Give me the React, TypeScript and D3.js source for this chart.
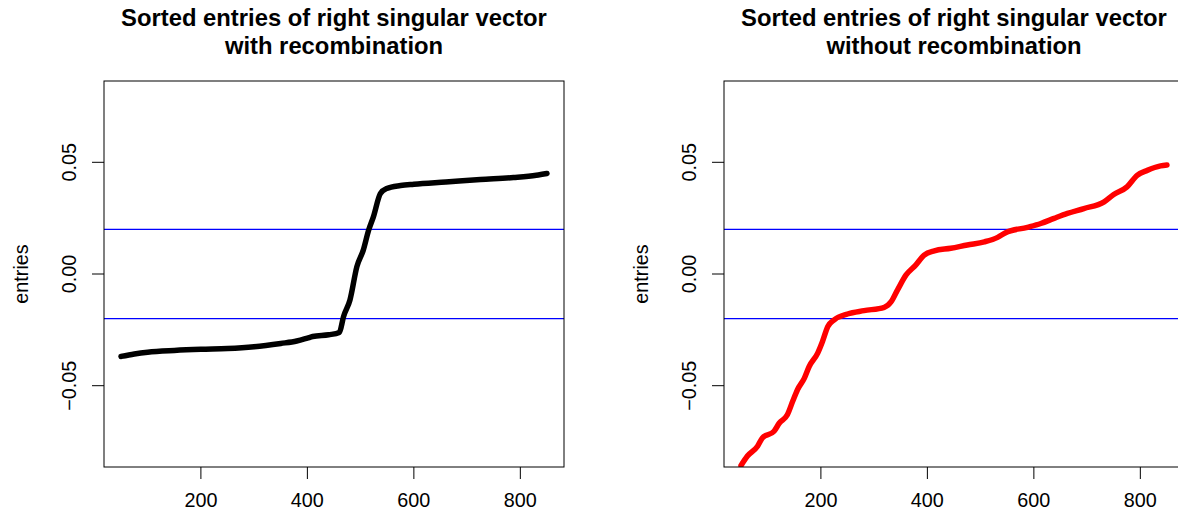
import React, { useEffect, useRef } from "react";
import * as d3 from "d3";

// index positions and sorted entries
const withX = [50, 75, 100, 150, 200, 250, 300, 350, 380, 400, 410, 440, 460, 468, 480, 493, 505, 515, 524, 537, 549, 575, 600, 660, 725, 787, 830, 850];
const withY = [-0.0369, -0.0358, -0.035, -0.0342, -0.0337, -0.0334, -0.0326, -0.0311, -0.03, -0.0287, -0.028, -0.0272, -0.0262, -0.019, -0.0116, 0.0033, 0.0107, 0.0196, 0.0256, 0.036, 0.0383, 0.0396, 0.0402, 0.0412, 0.0423, 0.0432, 0.0442, 0.045];

const withoutX = [50, 62, 81, 90, 112, 122, 137, 147, 156, 169, 178, 194, 203, 213, 225, 250, 281, 319, 332, 344, 360, 378, 394, 413, 444, 475, 507, 532, 547, 588, 613, 638, 663, 694, 732, 750, 775, 794, 813, 838, 850];
const withoutY = [-0.0857, -0.0815, -0.0771, -0.0734, -0.0704, -0.0667, -0.063, -0.057, -0.0518, -0.0466, -0.0414, -0.0354, -0.0302, -0.0235, -0.0205, -0.0179, -0.0164, -0.0149, -0.0124, -0.0071, -0.0004, 0.004, 0.0085, 0.0104, 0.0115, 0.013, 0.0144, 0.0164, 0.0185, 0.0209, 0.0226, 0.0249, 0.0271, 0.0293, 0.0323, 0.0356, 0.039, 0.0442, 0.0464, 0.0484, 0.0488];

const xTicks = [200, 400, 600, 800];
const yTicks = [-0.05, 0, 0.05];
const yTickLabels = ["\u22120.05", "0.00", "0.05"];
const cutoffs = [-0.02, 0.02];

const panels = [
  { title: ["Sorted entries of right singular vector", "with recombination"], xs: withX, ys: withY, color: "#000000", left: 104 },
  { title: ["Sorted entries of right singular vector", "without recombination"], xs: withoutX, ys: withoutY, color: "#ff0000", left: 724 },
];

const W = 1178;
const H = 516;
const FONT = "'Liberation Sans', Arial, Helvetica, sans-serif";

const App = () => {
  const svgRef = useRef<SVGSVGElement>(null);

  useEffect(() => {
    const svg = d3.select(svgRef.current);
    svg.selectAll("*").remove();

    const top = 81;
    const bottom = 467;
    const plotW = 460;

    panels.forEach((p, i) => {
      const x = d3.scaleLinear().domain([18, 882]).range([p.left, p.left + plotW]);
      const y = d3.scaleLinear().domain([-0.0864, 0.0864]).range([bottom, top]);
      const g = svg.append("g");
      const cx = p.left + plotW / 2;

      // title, two lines
      g.selectAll("text.title")
        .data(p.title)
        .join("text")
        .attr("class", "title")
        .attr("x", cx)
        .attr("y", (d, k) => 26 + k * 28)
        .attr("text-anchor", "middle")
        .attr("font-family", FONT)
        .attr("font-weight", "bold")
        .attr("font-size", "23.8px")
        .text(d => d);

      const clipId = `clip${i}`;
      svg.append("clipPath").attr("id", clipId)
        .append("rect")
        .attr("x", p.left).attr("y", top)
        .attr("width", plotW).attr("height", bottom - top);

      // reference lines at +-0.02
      g.append("g").attr("clip-path", `url(#${clipId})`)
        .selectAll("line")
        .data(cutoffs)
        .join("line")
        .attr("x1", p.left).attr("x2", p.left + plotW)
        .attr("y1", d => y(d)).attr("y2", d => y(d))
        .attr("stroke", "#0000ff")
        .attr("stroke-width", 1.2);

      // sorted entries, drawn as a thick run of points
      const line = d3.line<number>()
        .x((d, k) => x(p.xs[k]))
        .y(d => y(d))
        .curve(d3.curveMonotoneX);
      g.append("path")
        .attr("clip-path", `url(#${clipId})`)
        .attr("d", line(p.ys))
        .attr("fill", "none")
        .attr("stroke", p.color)
        .attr("stroke-width", 5.5)
        .attr("stroke-linecap", "round")
        .attr("stroke-linejoin", "round");

      // box
      g.append("rect")
        .attr("x", p.left).attr("y", top)
        .attr("width", plotW).attr("height", bottom - top)
        .attr("fill", "none")
        .attr("stroke", "#000")
        .attr("stroke-width", 1);

      // x axis ticks
      g.selectAll("line.xt")
        .data(xTicks)
        .join("line")
        .attr("class", "xt")
        .attr("x1", d => x(d)).attr("x2", d => x(d))
        .attr("y1", bottom).attr("y2", bottom + 12)
        .attr("stroke", "#000");
      g.selectAll("text.xl")
        .data(xTicks)
        .join("text")
        .attr("class", "xl")
        .attr("x", d => x(d))
        .attr("y", 507)
        .attr("text-anchor", "middle")
        .attr("font-family", FONT)
        .attr("font-size", "19.8px")
        .text(d => d);

      // y axis ticks
      g.selectAll("line.yt")
        .data(yTicks)
        .join("line")
        .attr("class", "yt")
        .attr("x1", p.left).attr("x2", p.left - 12)
        .attr("y1", d => y(d)).attr("y2", d => y(d))
        .attr("stroke", "#000");
      g.selectAll("text.yl")
        .data(yTicks)
        .join("text")
        .attr("class", "yl")
        .attr("transform", d => `translate(${p.left - 28},${y(d)}) rotate(-90)`)
        .attr("text-anchor", "middle")
        .attr("font-family", FONT)
        .attr("font-size", "19.8px")
        .text((d, k) => yTickLabels[k]);

      // y axis title
      g.append("text")
        .attr("transform", `translate(${p.left - 76},${(top + bottom) / 2}) rotate(-90)`)
        .attr("text-anchor", "middle")
        .attr("font-family", FONT)
        .attr("font-size", "19.8px")
        .text("entries");
    });
  }, []);

  return (
    <svg
      ref={svgRef}
      width={W}
      height={H}
      style={{ position: "absolute", left: 0, top: 0, background: "#fff" }}
    ></svg>
  );
};

export default App;
